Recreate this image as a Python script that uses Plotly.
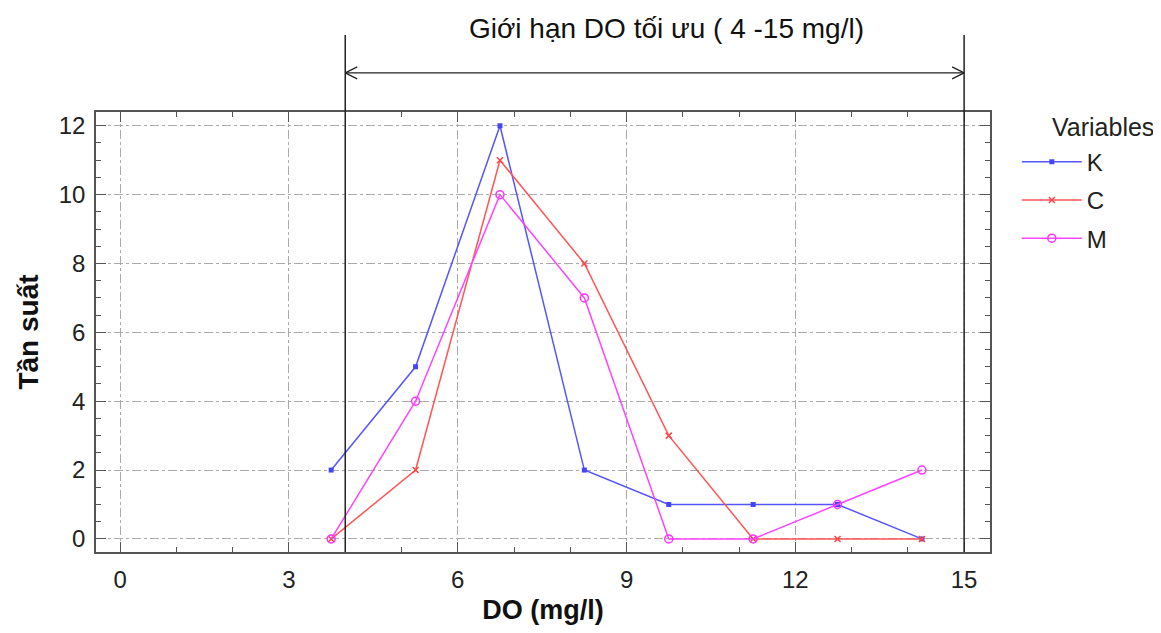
import plotly.graph_objects as go

do_bins = [3.75, 5.25, 6.75, 8.25, 9.75, 11.25, 12.75, 14.25]
freq_K = [2, 5, 12, 2, 1, 1, 1, 0]
freq_C = [0, 2, 11, 8, 3, 0, 0, 0]
freq_M = [0, 4, 10, 7, 0, 0, 1, 2]
opt_low, opt_high = 4, 15
x_ticks = [0, 3, 6, 9, 12, 15]
y_ticks = [0, 2, 4, 6, 8, 10, 12]

FONT = "Liberation Sans, Arial"

fig = go.Figure()
fig.add_trace(go.Scatter(x=do_bins, y=freq_K, name="K", mode="lines+markers", legendgroup="K",
                         line=dict(color="#5555ff", width=1.5),
                         marker=dict(symbol="square", size=5, color="#4444ff")))
fig.add_trace(go.Scatter(x=do_bins, y=freq_C, name="C", mode="lines+markers", legendgroup="C",
                         line=dict(color="#ff5555", width=1.5),
                         marker=dict(symbol="x-thin", size=6, color="#ff4444",
                                     line=dict(color="#ff4444", width=1.5))))
fig.add_trace(go.Scatter(x=do_bins, y=freq_M, name="M", mode="lines+markers", legendgroup="M",
                         line=dict(color="#ff44ff", width=1.5),
                         marker=dict(symbol="circle-open", size=8, color="#ff33ff",
                                     line=dict(width=1.5))))

axis_common = dict(showline=True, linecolor="#555555", linewidth=1.5, mirror="allticks",
                   ticks="inside", ticklen=10, tickcolor="#555555", tickwidth=1.2,
                   showgrid=True, gridcolor="#aaaaaa", griddash="dashdot", gridwidth=1.2,
                   zeroline=False, automargin=False,
                   tickfont=dict(size=24, color="#222222", family=FONT))

fig.update_xaxes(range=[-0.43, 15.46], tickvals=x_ticks, ticklabelstandoff=5,
                 minor=dict(dtick=1, ticks="inside", ticklen=5, tickcolor="#555555", showgrid=False),
                 title=dict(text="<b>DO (mg/l)</b>", font=dict(size=27, color="#111111", family=FONT),
                            standoff=18),
                 **axis_common)
fig.update_yaxes(range=[-0.38, 12.4], tickvals=y_ticks, ticklabelstandoff=4,
                 minor=dict(dtick=0.5, ticks="inside", ticklen=5, tickcolor="#555555", showgrid=False),
                 title=dict(text="<b>Tần suất</b>", font=dict(size=28, color="#111111", family=FONT),
                            standoff=12),
                 **axis_common)

# Optimum range lines and arrow
arrow_y = 1.089
shapes = []
for xv in (opt_low, opt_high):
    shapes.append(dict(type="line", xref="x", yref="paper", x0=xv, x1=xv, y0=0, y1=1.175,
                       line=dict(color="#222222", width=1.5)))
shapes.append(dict(type="line", xref="x", yref="paper", x0=opt_low, x1=opt_high,
                   y0=arrow_y, y1=arrow_y, line=dict(color="#222222", width=1.3)))
for xv, sgn in ((opt_low, 1), (opt_high, -1)):
    for dy in (6, -6):
        shapes.append(dict(type="line", xref="x", yref="paper",
                           xsizemode="pixel", ysizemode="pixel",
                           xanchor=xv, yanchor=arrow_y,
                           x0=0, x1=sgn * 12, y0=0, y1=dy,
                           line=dict(color="#222222", width=1.3)))
fig.update_layout(shapes=shapes)

fig.add_annotation(text="Giới hạn DO tối ưu ( 4 -15 mg/l)", xref="paper", yref="paper",
                   x=0.6376, y=1.19, showarrow=False,
                   xanchor="center", yanchor="middle",
                   font=dict(size=28, color="#111111", family=FONT))
fig.add_annotation(text="Variables", xref="paper", yref="paper",
                   x=1.067, y=0.966, showarrow=False, xanchor="left", yanchor="middle",
                   font=dict(size=25, color="#222222", family=FONT))

fig.update_layout(
    width=1145, height=617,
    margin=dict(l=88, r=163, t=104, b=73),
    paper_bgcolor="white", plot_bgcolor="white",
    showlegend=True,
    legend=dict(x=1.03, y=0.937, xanchor="left", yanchor="top",
                font=dict(size=24, color="#222222", family=FONT),
                tracegroupgap=4, itemwidth=60),
)

fig.write_html("out.html")
